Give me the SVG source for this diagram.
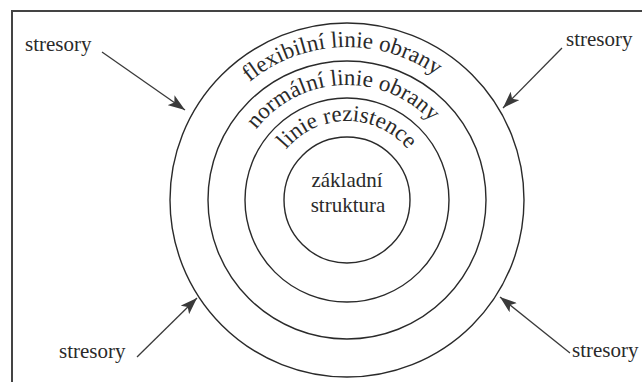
<svg xmlns="http://www.w3.org/2000/svg" width="642" height="382" viewBox="0 0 642 382">
<style>
.ring{fill:none;stroke:#2a2a2a;stroke-width:1.4}
.lbl{font-family:"Liberation Serif","Times New Roman",serif;font-size:21px;fill:#2a2a2a}
.arc{font-family:"Liberation Serif","Times New Roman",serif;font-size:23px;fill:#2a2a2a}
.arr{stroke:#3a3a3a;stroke-width:1.3;fill:none;marker-end:url(#ah)}
</style>
<defs>
<marker id="ah" markerUnits="userSpaceOnUse" markerWidth="18" markerHeight="12" refX="17" refY="6" orient="auto">
<path d="M0,0 L17,6 L0,12 L4,6 Z" fill="#3a3a3a"/>
</marker>
<path id="p1" d="M194,200 A153,153 0 0 1 500,200"/>
<path id="p2" d="M232,200 A115,115 0 0 1 462,200"/>
<path id="p3" d="M268,200 A79,79 0 0 1 426,200"/>
</defs>
<rect x="0" y="0" width="642" height="382" fill="#fff"/>
<rect x="12" y="11" width="660" height="400" fill="none" stroke="#444" stroke-width="2"/>
<g id="flexibilni">
<circle class="ring" cx="347" cy="200" r="177"/>
<text class="arc" transform="rotate(-2 347 200)"><textPath href="#p1" startOffset="50%" text-anchor="middle">flexibilní linie obrany</textPath></text>
</g>
<g id="normalni">
<circle class="ring" cx="347" cy="200" r="139"/>
<text class="arc" transform="rotate(-2.5 347 200)"><textPath href="#p2" startOffset="50%" text-anchor="middle">normální linie obrany</textPath></text>
</g>
<g id="rezistence">
<circle class="ring" cx="347" cy="200" r="102"/>
<text class="arc" transform="rotate(0 347 200)"><textPath href="#p3" startOffset="50%" text-anchor="middle">linie rezistence</textPath></text>
</g>
<g id="zakladni">
<circle class="ring" cx="347" cy="200" r="63"/>
<text class="lbl" x="347" y="187" text-anchor="middle">základní</text>
<text class="lbl" x="348" y="212" text-anchor="middle">struktura</text>
</g>
<g id="stresory-tl"><text class="lbl" x="25" y="51">stresory</text></g>
<g id="stresory-tr"><text class="lbl" x="566" y="46">stresory</text></g>
<g id="stresory-bl"><text class="lbl" x="59" y="358">stresory</text></g>
<g id="stresory-br"><text class="lbl" x="572" y="357">stresory</text></g>
<g id="connectors">
<line class="arr" x1="102" y1="52" x2="185" y2="110"/>
<line class="arr" x1="562" y1="48" x2="503" y2="108"/>
<line class="arr" x1="137" y1="357" x2="197" y2="298"/>
<line class="arr" x1="570" y1="353" x2="500" y2="297"/>
</g>
</svg>
